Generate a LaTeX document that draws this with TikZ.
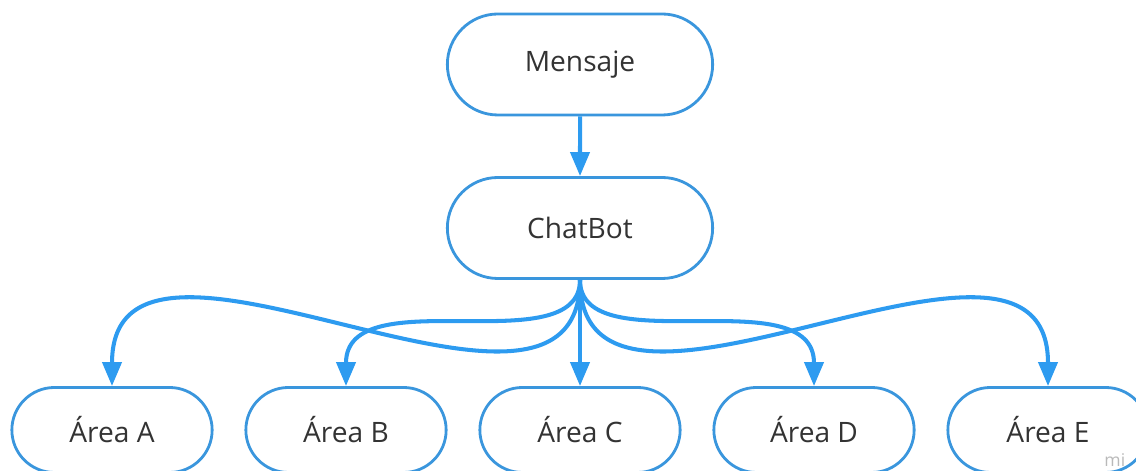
\documentclass[tikz,border=0pt]{standalone}
\usepackage{fontspec}
\setmainfont{Open Sans}
\usepackage{tikz}
\usetikzlibrary{shapes.misc, arrows.meta}

\definecolor{boxblue}{HTML}{3A96DD}
\definecolor{lineblue}{HTML}{2D9BF0}
\definecolor{textgray}{HTML}{333333}

\begin{document}
\begin{tikzpicture}[
		every node/.style={rounded rectangle, draw=boxblue, line width=1.6pt, text=textgray,
			minimum height=2.02cm, font=\fontsize{16}{19}\selectfont},
		wide/.style={minimum width=5.54cm},
		narrow/.style={minimum width=4.24cm, minimum height=1.7cm},
		arrow/.style={color=lineblue, line width=2.3pt, -{Triangle[length=0.48cm, width=0.38cm]}}
	]
  \useasboundingbox (0cm, 0cm) rectangle (22.72cm, 9.42cm);

  \node (msg) [wide] at (11.6cm, 8.13cm) {Mensaje};
  \node (bot) [wide] at (11.6cm, 4.86cm) {ChatBot};

  \node (a) [narrow] at (2.24cm, 0.82cm) {Área A};
  \node (b) [narrow] at (6.92cm, 0.82cm) {Área B};
  \node (c) [narrow] at (11.6cm, 0.82cm) {Área C};
  \node (d) [narrow] at (16.28cm, 0.82cm) {Área D};
  \node (e) [narrow] at (20.96cm, 0.82cm) {Área E};

  \node (mark) [draw=none, rectangle, anchor=west, text=gray!55, minimum height=0pt,
    inner sep=0pt, font=\fontsize{10}{11}\selectfont] at (22.06cm, 0.22cm) {mi};

  \draw [arrow] (msg) -- (bot);
  \draw [arrow] (bot.south) to [out=-90, in=90, out looseness=1.08, in looseness=1.15] (a.north);
  \draw [arrow] (bot.south) to [out=-90, in=90, out looseness=0.84, in looseness=1.08] (b.north);
  \draw [arrow] (bot.south) -- (c.north);
  \draw [arrow] (bot.south) to [out=-90, in=90, out looseness=0.84, in looseness=1.08] (d.north);
  \draw [arrow] (bot.south) to [out=-90, in=90, out looseness=1.08, in looseness=1.15] (e.north);
\end{tikzpicture}
\end{document}
